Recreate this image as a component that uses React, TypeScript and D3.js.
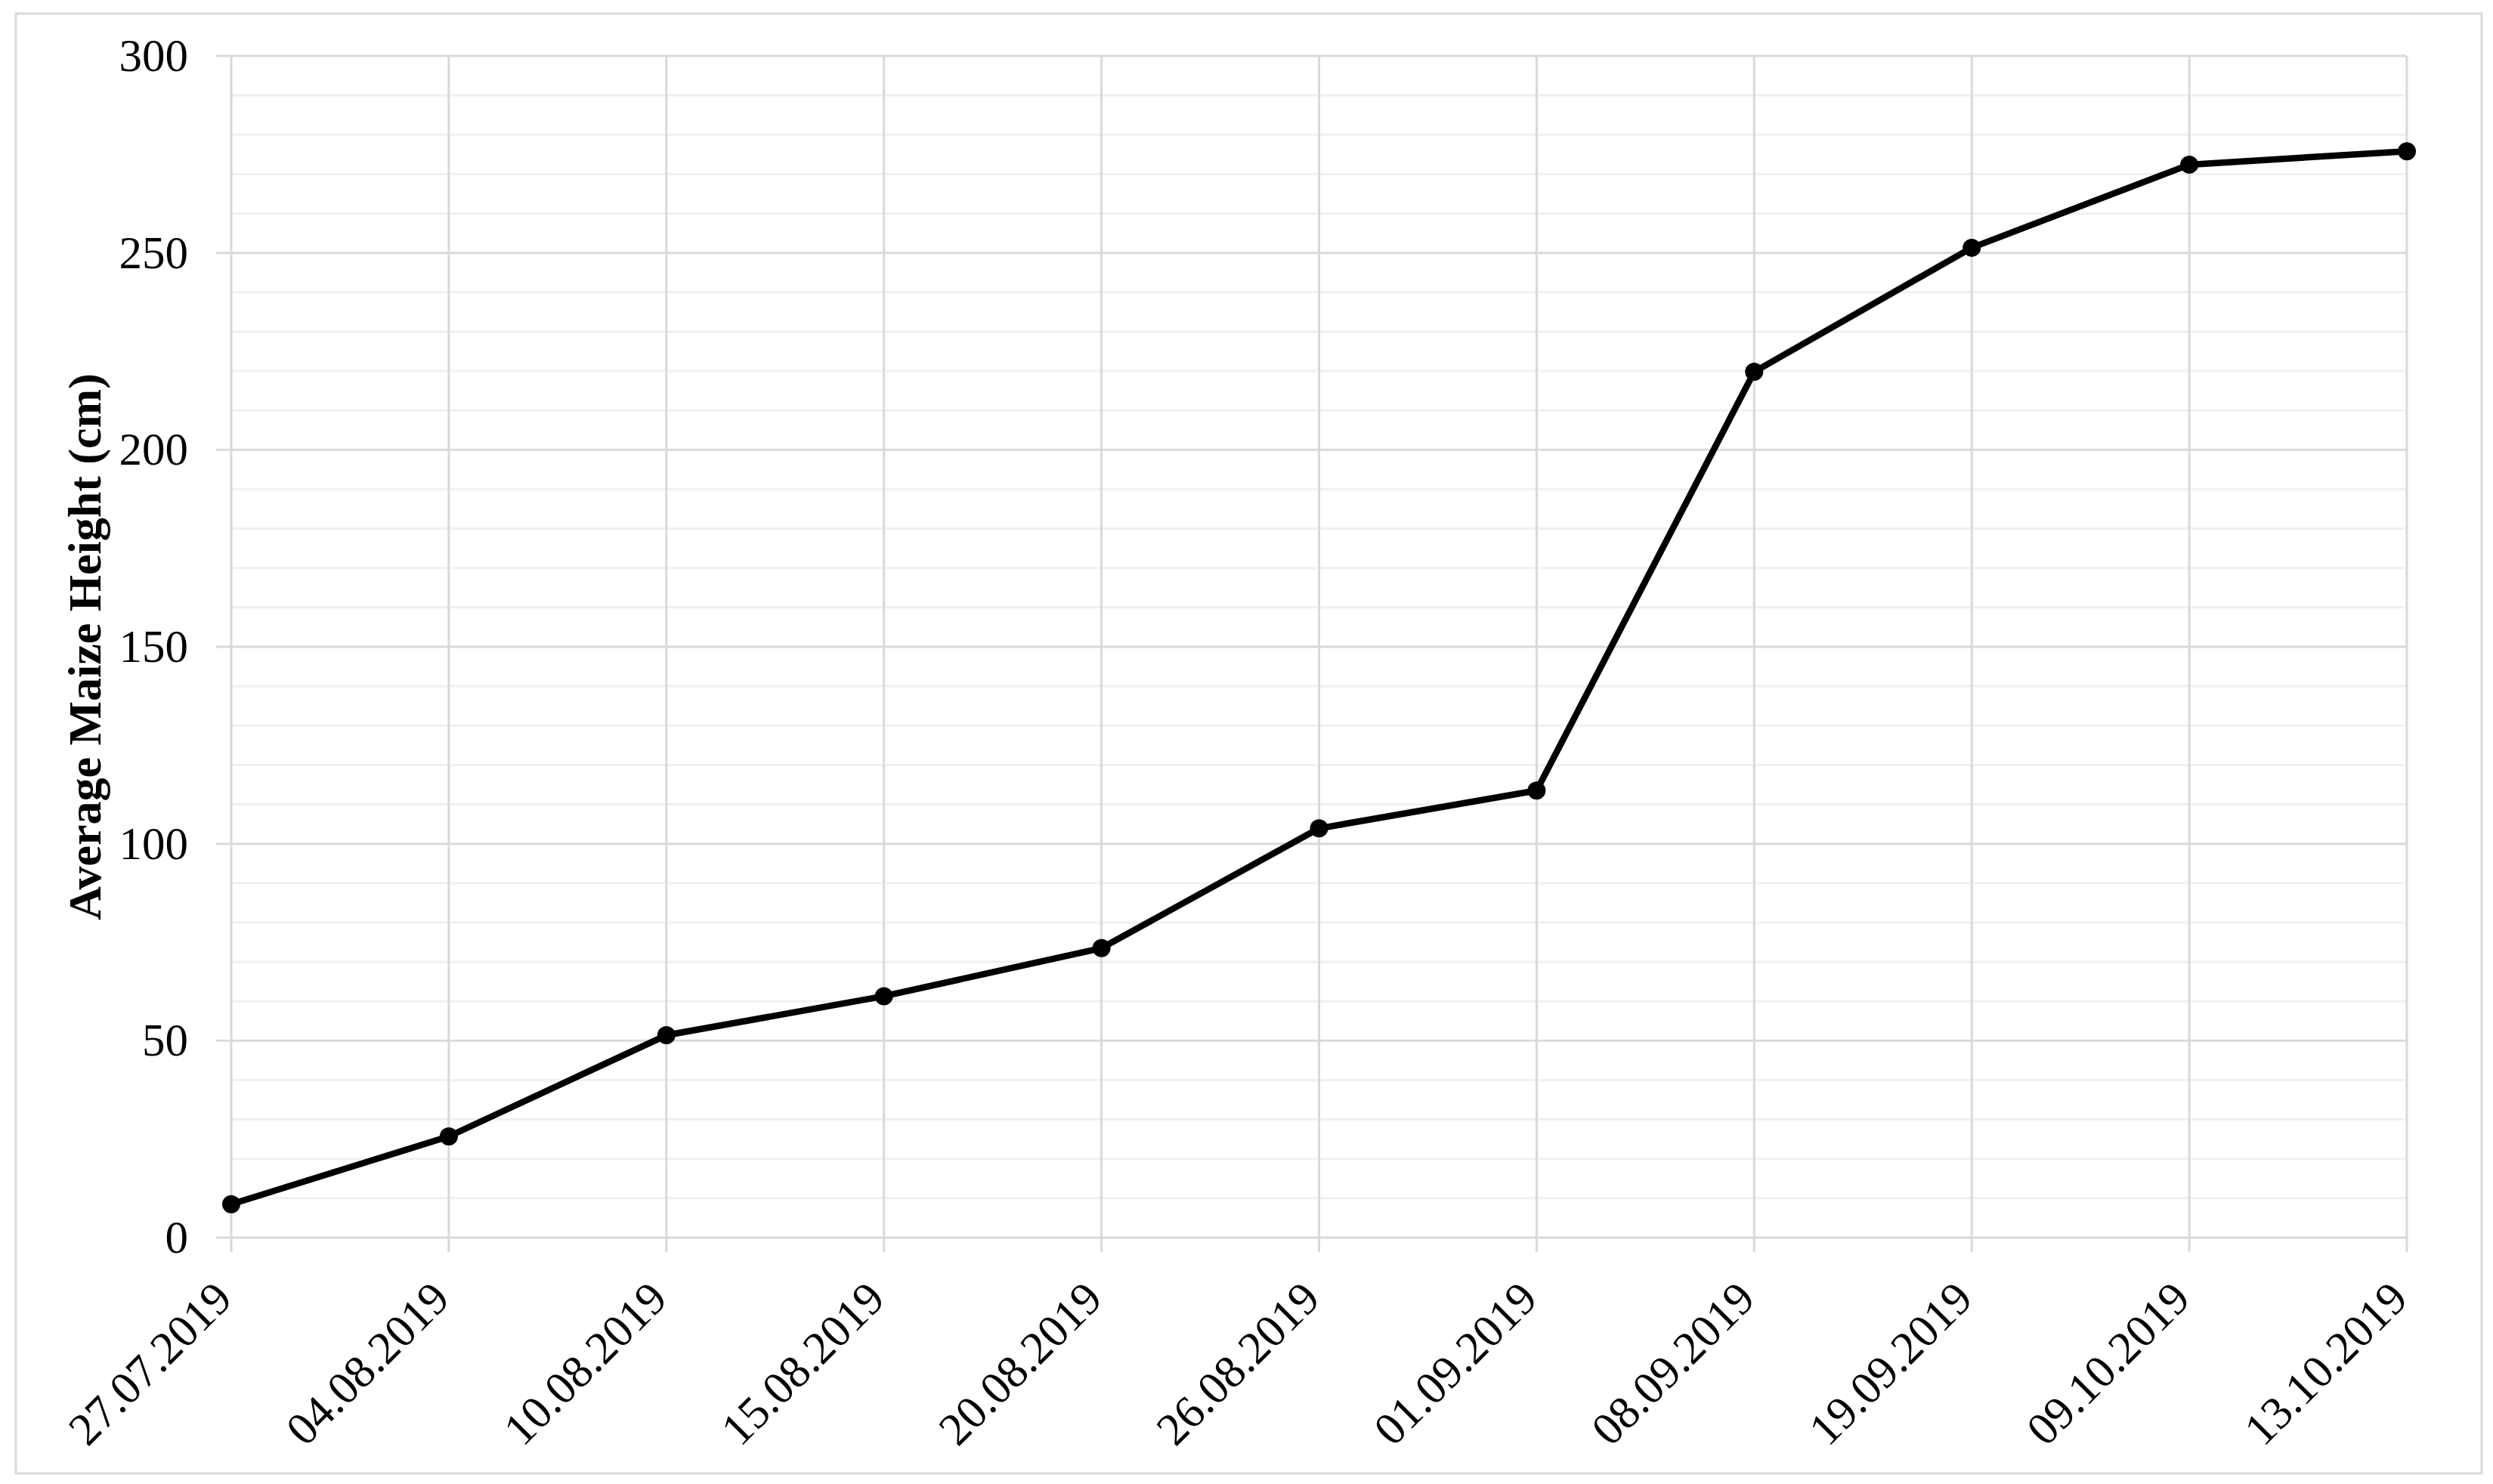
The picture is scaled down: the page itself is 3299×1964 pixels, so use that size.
import React from "react";
import * as d3 from "d3";

const dates = [
  "27.07.2019", "04.08.2019", "10.08.2019", "15.08.2019", "20.08.2019", "26.08.2019",
  "01.09.2019", "08.09.2019", "19.09.2019", "09.10.2019", "13.10.2019",
];
const heights = [8.5, 25.7, 51.4, 61.3, 73.5, 103.9, 113.5, 219.8, 251.3, 272.4, 275.8];
const majorTicks = [0, 50, 100, 150, 200, 250, 300];
const minorTicks = d3.range(0, 301, 10).filter((v) => v % 50 !== 0);
const yTitle = "Average Maize Height (cm)";

const W = 3299;
const H = 1964;
const FONT = "'Liberation Serif', 'Times New Roman', serif";

export default function App() {
  const x = d3.scalePoint<string>().domain(dates).range([306, 3185]);
  const y = d3.scaleLinear().domain([0, 300]).range([1638, 74]);
  const line = d3
    .line<number>()
    .x((_, i) => x(dates[i]) as number)
    .y((d) => y(d));
  const x0 = x(dates[0]) as number;
  const x1 = x(dates[dates.length - 1]) as number;

  return (
    <svg
      width={W}
      height={H}
      viewBox={`0 0 ${W} ${H}`}
      style={{ position: "absolute", left: 0, top: 0, background: "#fff" }}
    >
      <rect x={0} y={0} width={W} height={H} fill="#fff" />
      <rect x={21} y={18} width={3263} height={1932} fill="#fff" stroke="#d9d9d9" strokeWidth={3} />
      {minorTicks.map((t) => (
        <line key={"mi" + t} x1={x0} x2={x1} y1={y(t)} y2={y(t)} stroke="#f0f0f0" strokeWidth={3} />
      ))}
      {dates.map((d) => (
        <line key={"v" + d} x1={x(d)} x2={x(d)} y1={y(300)} y2={y(0) + 19} stroke="#d9d9d9" strokeWidth={3} />
      ))}
      {majorTicks.map((t) => (
        <line key={"ma" + t} x1={x0 - 20} x2={x1} y1={y(t)} y2={y(t)} stroke="#d9d9d9" strokeWidth={3} />
      ))}
      {majorTicks.map((t) => (
        <text
          key={"yl" + t}
          x={249}
          y={y(t) + 20}
          textAnchor="end"
          fontFamily={FONT}
          fontSize={61}
          fill="#000"
        >
          {t}
        </text>
      ))}
      {dates.map((d) => (
        <text
          key={"xl" + d}
          transform={`translate(${(x(d) as number) + 4},${1722}) rotate(-45)`}
          textAnchor="end"
          fontFamily={FONT}
          fontSize={61}
          fill="#000"
        >
          {d}
        </text>
      ))}
      <text
        transform={`translate(133,${(y(0) + y(300)) / 2}) rotate(-90)`}
        textAnchor="middle"
        fontFamily={FONT}
        fontSize={62}
        fontWeight="bold"
        fill="#000"
      >
        {yTitle}
      </text>
      <path d={line(heights) || ""} fill="none" stroke="#000" strokeWidth={8.5} strokeLinejoin="round" />
      {heights.map((v, i) => (
        <circle key={"p" + i} cx={x(dates[i])} cy={y(v)} r={12} fill="#000" />
      ))}
    </svg>
  );
}
